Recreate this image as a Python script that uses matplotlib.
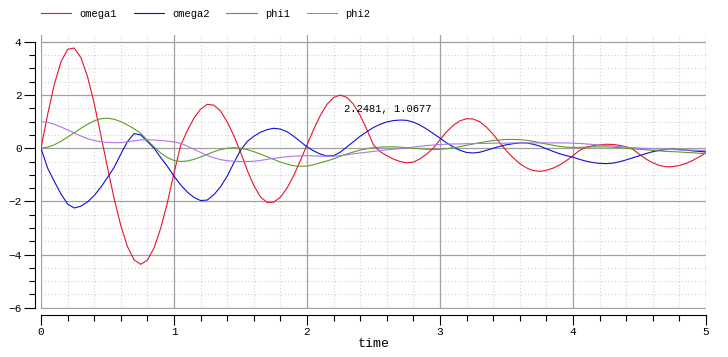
import numpy as np
import matplotlib
matplotlib.use("Agg")
import matplotlib.pyplot as plt
from matplotlib.ticker import MultipleLocator

# sample times (s), 0.05 s step
t = np.linspace(0, 5, 101)

omega1 = [0.00, 1.27, 2.40, 3.25, 3.72, 3.77, 3.41, 2.69, 1.68, 0.49,
          -0.73, -1.90, -2.91, -3.70, -4.20, -4.37, -4.21, -3.75, -3.01, -2.05,
          -0.94, 0.11, 0.66, 1.13, 1.47, 1.65, 1.62, 1.40, 0.99, 0.47,
          -0.14, -0.82, -1.40, -1.83, -2.04, -2.03, -1.84, -1.50, -1.03, -0.47,
          0.12, 0.71, 1.23, 1.65, 1.91, 2.00, 1.91, 1.65, 1.23, 0.71,
          0.12, -0.13, -0.28, -0.41, -0.50, -0.55, -0.52, -0.40, -0.22, 0.00,
          0.32, 0.62, 0.86, 1.03, 1.11, 1.10, 0.99, 0.79, 0.52, 0.20,
          -0.10, -0.36, -0.58, -0.74, -0.84, -0.87, -0.83, -0.75, -0.63, -0.47,
          -0.28, -0.08, 0.04, 0.09, 0.13, 0.15, 0.14, 0.11, 0.05, -0.04,
          -0.23, -0.41, -0.55, -0.65, -0.70, -0.69, -0.65, -0.57, -0.46, -0.32,
          -0.17]

omega2 = [0.00, -0.75, -1.25, -1.72, -2.10, -2.25, -2.18, -2.02, -1.78, -1.47,
          -1.10, -0.72, -0.22, 0.25, 0.55, 0.50, 0.25, 0.00, -0.35, -0.68,
          -1.05, -1.38, -1.65, -1.85, -1.97, -1.95, -1.75, -1.45, -1.05, -0.55,
          -0.08, 0.25, 0.45, 0.60, 0.70, 0.75, 0.72, 0.62, 0.45, 0.25,
          0.05, -0.10, -0.22, -0.29, -0.28, -0.15, 0.05, 0.25, 0.45, 0.62,
          0.78, 0.90, 0.99, 1.04, 1.06, 1.05, 0.98, 0.87, 0.72, 0.55,
          0.38, 0.20, 0.05, -0.08, -0.16, -0.18, -0.15, -0.08, 0.00, 0.07,
          0.13, 0.17, 0.20, 0.20, 0.15, 0.08, -0.02, -0.12, -0.21, -0.28,
          -0.34, -0.42, -0.49, -0.54, -0.57, -0.58, -0.56, -0.51, -0.44, -0.36,
          -0.28, -0.20, -0.13, -0.08, -0.05, -0.04, -0.05, -0.07, -0.10, -0.12,
          -0.14]

phi1 = [0.00, 0.04, 0.13, 0.26, 0.42, 0.58, 0.75, 0.90, 1.03, 1.11,
        1.13, 1.09, 1.00, 0.88, 0.73, 0.56, 0.30, 0.05, -0.18, -0.35,
        -0.46, -0.50, -0.48, -0.42, -0.33, -0.23, -0.13, -0.05, 0.00, 0.02,
        0.00, -0.05, -0.13, -0.22, -0.32, -0.42, -0.52, -0.60, -0.66, -0.68,
        -0.67, -0.62, -0.55, -0.48, -0.40, -0.30, -0.22, -0.14, -0.07, -0.02,
        0.02, 0.04, 0.05, 0.05, 0.04, 0.02, 0.00, -0.02, -0.04, -0.05,
        -0.04, -0.02, 0.02, 0.06, 0.11, 0.16, 0.21, 0.25, 0.29, 0.31,
        0.33, 0.33, 0.32, 0.30, 0.26, 0.21, 0.16, 0.11, 0.07, 0.04,
        0.03, 0.03, 0.04, 0.05, 0.05, 0.05, 0.04, 0.02, 0.00, -0.02,
        -0.04, -0.06, -0.08, -0.10, -0.12, -0.13, -0.14, -0.16, -0.17, -0.19,
        -0.20]

phi2 = [1.00, 0.97, 0.90, 0.80, 0.69, 0.57, 0.46, 0.36, 0.29, 0.24,
        0.22, 0.21, 0.21, 0.24, 0.28, 0.31, 0.32, 0.31, 0.29, 0.27,
        0.24, 0.18, 0.08, -0.04, -0.16, -0.27, -0.36, -0.43, -0.47, -0.49,
        -0.50, -0.50, -0.49, -0.46, -0.42, -0.38, -0.35, -0.32, -0.30, -0.29,
        -0.28, -0.29, -0.30, -0.30, -0.30, -0.28, -0.25, -0.21, -0.18, -0.15,
        -0.12, -0.09, -0.06, -0.04, -0.01, 0.01, 0.04, 0.07, 0.10, 0.12,
        0.14, 0.15, 0.16, 0.16, 0.17, 0.17, 0.18, 0.18, 0.19, 0.19,
        0.19, 0.20, 0.20, 0.20, 0.20, 0.20, 0.20, 0.20, 0.20, 0.20,
        0.19, 0.18, 0.16, 0.14, 0.12, 0.10, 0.08, 0.06, 0.04, 0.02,
        0.00, -0.01, -0.02, -0.03, -0.04, -0.05, -0.06, -0.07, -0.07, -0.08,
        -0.08]

names = ["omega1", "omega2", "phi1", "phi2"]
colors = ["#e8142a", "#1010d0", "#5a9e28", "#a878e8"]

marker_txt = "2.2481, 1.0677"

font = "Liberation Mono"

fig = plt.figure(figsize=(7.28, 3.57), dpi=100)
ax = fig.add_axes([41/728, 48/357, 665/728, 274/357])

for y, name, c in zip([omega1, omega2, phi1, phi2], names, colors):
    ax.plot(t, y, color=c, lw=0.8, label=name)

ax.set_xlim(0, 5)
ax.set_ylim(-6.05, 4.26)
ax.xaxis.set_major_locator(MultipleLocator(1))
ax.xaxis.set_minor_locator(MultipleLocator(0.2))
ax.yaxis.set_major_locator(MultipleLocator(2))
ax.yaxis.set_minor_locator(MultipleLocator(0.5))

ax.grid(which="major", color="#a0a0a0", lw=0.9, ls="-")
ax.grid(which="minor", color="#d0d0d0", lw=0.8, ls=(0, (1, 2)))
ax.set_axisbelow(True)

for s in ["top", "right"]:
    ax.spines[s].set_visible(False)
ax.spines["left"].set_position(("outward", 4))
ax.spines["bottom"].set_position(("outward", 4))
ax.spines["left"].set_bounds(-6, 4)
ax.spines["bottom"].set_bounds(0, 5)
ax.tick_params(which="major", length=7, width=0.8, labelsize=8, pad=2)
ax.tick_params(which="minor", length=4, width=0.8)
ax.tick_params(axis="y", which="major", length=8)
for lab in ax.get_xticklabels() + ax.get_yticklabels():
    lab.set_family(font)

ax.set_xlabel("time", family=font, fontsize=9.5, labelpad=1)

ax.text(2.28, 1.46, marker_txt, family=font, fontsize=7.5, va="center")

leg = ax.legend(loc="lower left", bbox_to_anchor=(0.0, 1.058), ncol=4,
                frameon=False, prop={"family": font, "size": 7.5},
                handlelength=2.9, handletextpad=0.8, columnspacing=1.6,
                borderaxespad=0, borderpad=0)

fig.savefig("out.png", dpi=100)
